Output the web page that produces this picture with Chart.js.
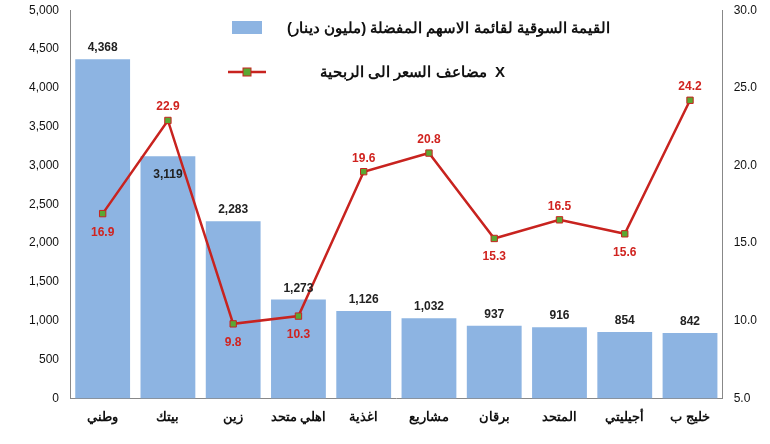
<!DOCTYPE html>
<html><head><meta charset="utf-8">
<script src="https://cdn.jsdelivr.net/npm/chart.js@4"></script>
<style>body{margin:0;background:#fff}#w{width:770px;height:444px}</style>
</head><body><div id="w"><canvas id="c"></canvas></div>
<script>
const categories=["وطني","بيتك","زين","اهلي متحد","اغذية","مشاريع","برقان","المتحد","أجيليتي","خليج ب"];
const marketValue=[4368,3119,2283,1273,1126,1032,937,916,854,842];
const peRatio=[16.9,22.9,9.8,10.3,19.6,20.8,15.3,16.5,15.6,24.2];
const leftTicks=[0,500,1000,1500,2000,2500,3000,3500,4000,4500,5000];
const rightTicks=[5,10,15,20,25,30];
const barLegend="القيمة السوقية لقائمة الاسهم المفضلة (مليون دينار)";
const lineLegend="مضاعف السعر الى الربحية  X";
const peBelow=[true,false,true,true,false,false,true,false,true,false];
const F="'Liberation Sans', Arial, sans-serif";
const labels={id:'lbl',afterDatasetsDraw(ch){
 const c=ch.ctx;c.save();c.textAlign='center';
 c.font='bold 12px '+F;c.fillStyle='#222';
 ch.getDatasetMeta(0).data.forEach((b,i)=>{
  const y=i===1?b.y+22:b.y-8;c.fillText(marketValue[i].toLocaleString('en-US'),b.x,y);});
 c.fillStyle='#d0231f';
 ch.getDatasetMeta(1).data.forEach((p,i)=>{
  c.fillText(peRatio[i].toFixed(1),p.x,peBelow[i]?p.y+22:p.y-10);});
 c.textAlign='right';c.font='bold 15px '+F;
 c.fillStyle='#8db4e2';c.fillRect(232,21,30,13);
 c.fillStyle='#111';c.fillText(barLegend,610,33);
 c.strokeStyle='#c8231f';c.lineWidth=2.5;c.beginPath();c.moveTo(228,72);c.lineTo(266,72);c.stroke();
 c.fillStyle='#5aa832';c.lineWidth=1;c.fillRect(243,68,8,8);c.strokeRect(243,68,8,8);
 c.fillStyle='#111';c.fillText(lineLegend,505,77);
 c.restore();}};
new Chart(document.getElementById('c'),{
 data:{labels:categories,datasets:[
  {type:'bar',data:marketValue,backgroundColor:'#8db4e2',yAxisID:'y',categoryPercentage:0.84,barPercentage:1,order:2},
  {type:'line',data:peRatio,yAxisID:'y1',borderColor:'#c8231f',borderWidth:2.5,pointStyle:'rect',pointRadius:4.5,pointBackgroundColor:'#5aa832',pointBorderColor:'#c8231f',pointBorderWidth:1,order:1}]},
 options:{responsive:true,maintainAspectRatio:false,animation:false,
  layout:{padding:{top:8,right:10,left:26,bottom:16}},
  plugins:{legend:{display:false},tooltip:{enabled:false}},
  scales:{
   x:{grid:{display:false},border:{color:'#888'},ticks:{color:'#111',font:{family:F,size:13,weight:'bold'},maxRotation:0}},
   y:{min:0,max:5000,afterBuildTicks(a){a.ticks=leftTicks.map(v=>({value:v}))},grid:{display:false},border:{color:'#888'},
      ticks:{color:'#111',font:{family:F,size:12},callback:v=>v.toLocaleString('en-US')}},
   y1:{position:'right',min:5,max:30,afterBuildTicks(a){a.ticks=rightTicks.map(v=>({value:v}))},grid:{display:false},border:{color:'#888'},
      ticks:{color:'#111',font:{family:F,size:12},callback:v=>v.toFixed(1)}}}},
 plugins:[labels]});
</script></body></html>
